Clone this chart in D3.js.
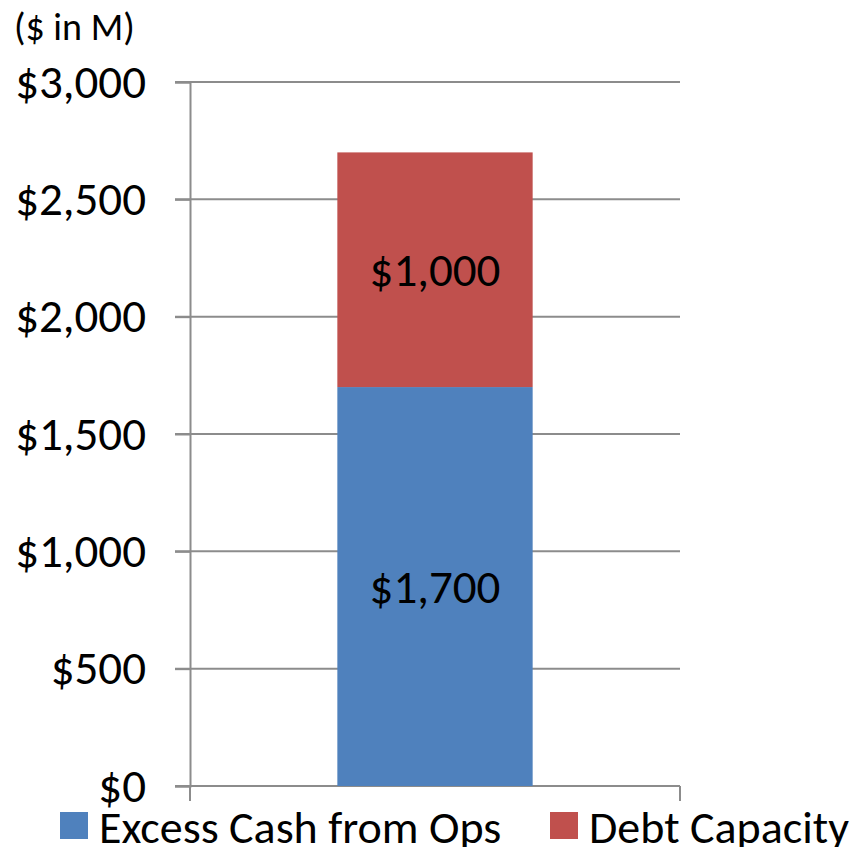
<!DOCTYPE html>
<html lang="en">
<head>
  <meta charset="UTF-8">
  <title>Excess Cash and Debt Capacity</title>
  <script src="https://d3js.org/d3.v7.min.js"></script>
  <style>
    body { margin: 0; background: #fff; }
    svg text { font-family: Carlito, Calibri, Lato, "Open Sans", sans-serif; fill: #000; }
  </style>
</head>
<body>
  <svg id="chart" width="862" height="847"></svg>

  <script>
    // —— data ——
    const categories = [""];
    const seriesNames = ["Excess Cash from Ops", "Debt Capacity"];
    const excessCash = [1700];
    const debtCapacity = [1000];
    const yTicks = [0, 500, 1000, 1500, 2000, 2500, 3000];
    const colors = ["#4F81BD", "#C0504D"];

    const W = 862, H = 847;
    const m = { top: 82, right: 182, bottom: 61, left: 190 };

    const svg = d3.select("#chart");

    const x = d3.scaleBand()
      .domain(categories)
      .range([m.left, W - m.right])
      .paddingInner(0.43).paddingOuter(0.43);

    const y = d3.scaleLinear()
      .domain([0, 3000])
      .range([H - m.bottom, m.top]);

    const fmt = d => "$" + d3.format(",")(d);

    // gridlines
    svg.append("g")
      .selectAll("line")
      .data(yTicks)
      .join("line")
      .attr("x1", m.left - 15).attr("x2", W - m.right)
      .attr("y1", d => y(d)).attr("y2", d => y(d))
      .attr("stroke", "#8c8c8c").attr("stroke-width", 2);

    // y axis
    const yAxis = svg.append("g")
      .attr("transform", `translate(${m.left},0)`)
      .call(d3.axisLeft(y).tickValues(yTicks).tickFormat(fmt).tickSize(15).tickPadding(29));
    yAxis.select(".domain").attr("stroke", "#8c8c8c").attr("stroke-width", 2);
    yAxis.selectAll(".tick line").attr("stroke", "#8c8c8c").attr("stroke-width", 2);
    yAxis.selectAll("text")
      .attr("font-size", 47)
      .attr("font-family", null)
      .attr("fill", "#000");

    // x axis end ticks
    const x0 = m.left, x1 = W - m.right;
    svg.append("g")
      .selectAll("line")
      .data([x0, x1])
      .join("line")
      .attr("x1", d => d).attr("x2", d => d)
      .attr("y1", y(0)).attr("y2", y(0) + 15)
      .attr("stroke", "#8c8c8c").attr("stroke-width", 2);

    // stacked data
    const rows = categories.map((c, i) => ({ cat: c, excess: excessCash[i], debt: debtCapacity[i] }));
    const stack = d3.stack().keys(["excess", "debt"])(rows);

    const layers = svg.append("g")
      .selectAll("g")
      .data(stack)
      .join("g")
      .attr("fill", (d, i) => colors[i]);

    layers.selectAll("rect")
      .data(d => d)
      .join("rect")
      .attr("x", d => x(d.data.cat))
      .attr("width", x.bandwidth())
      .attr("y", d => y(d[1]))
      .attr("height", d => y(d[0]) - y(d[1]));

    layers.selectAll("text")
      .data(d => d)
      .join("text")
      .attr("x", d => x(d.data.cat) + x.bandwidth() / 2)
      .attr("y", d => (y(d[0]) + y(d[1])) / 2)
      .attr("text-anchor", "middle")
      .attr("dominant-baseline", "central")
      .attr("font-size", 47)
      .text(d => fmt(d[1] - d[0]));

    // unit label
    svg.append("text")
      .attr("x", 14).attr("y", 40)
      .attr("font-size", 38)
      .text("($ in M)");

    // legend
    const legendItems = [
      { name: seriesNames[0], color: colors[0], x: 60 },
      { name: seriesNames[1], color: colors[1], x: 550 }
    ];
    const lg = svg.append("g").selectAll("g")
      .data(legendItems)
      .join("g")
      .attr("transform", d => `translate(${d.x},812)`);
    lg.append("rect").attr("width", 28).attr("height", 27).attr("fill", d => d.color);
    lg.append("text")
      .attr("x", 39).attr("y", 31)
      .attr("font-size", 46)
      .text(d => d.name);
  </script>
</body>
</html>
